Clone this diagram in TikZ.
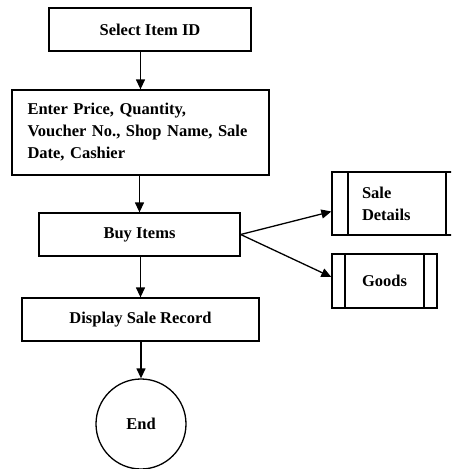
\documentclass[tikz,border=0pt]{standalone}
\usepackage{fontspec}
\setmainfont{Liberation Serif}
\usetikzlibrary{positioning, arrows.meta, calc}
\tikzset{
  box/.style={draw, line width=1.3pt, align=center, font=\fontsize{16.5}{22}\selectfont\bfseries, inner sep=2pt},
  stepbox/.style={box, minimum height=43pt},
  subproc/.style={box, path picture={
      \draw[line width=1.3pt] ([xshift=#1]path picture bounding box.north west) -- ([xshift=#1]path picture bounding box.south west);
      \draw[line width=1.3pt] ([xshift=-#1]path picture bounding box.north east) -- ([xshift=-#1]path picture bounding box.south east);}},
  term/.style={box, circle, minimum size=90pt},
  flow/.style={-{Triangle[length=10pt, width=9pt]}, line width=1.3pt},
}
\begin{document}
\begin{tikzpicture}[x=1pt, y=1pt]
  \clip (0,0) rectangle (451,-469);
  \useasboundingbox (0,0) rectangle (451,-469);
  \node[stepbox, minimum width=202pt] (sel) at (150,-29.5) {Select Item ID};
  \node[box, minimum width=257pt, minimum height=85pt, text width=226pt, align=left, inner xsep=15pt] (enter) at (140.5,-132.5) {Enter Price, Quantity,\\ Voucher No., Shop Name, Sale\\ Date, Cashier};
  \node[stepbox, minimum width=201pt] (buy) at (139.5,-234.5) {Buy Items};
  \node[stepbox, minimum width=237pt] (disp) at (140.5,-319.5) {Display Sale Record};
  \node[term] (end) at (141,-424) {End};
  \node[subproc=16pt, minimum width=130pt, minimum height=63pt, text width=70pt, align=left] (sale) at (397,-203.5) {Sale\\ Details};
  \node[subproc=13pt, minimum width=105pt, minimum height=54pt] (goods) at (384.5,-281) {Goods};
  % main flow
  \draw[flow] (enter.north |- sel.south) -- (enter.north);
  \foreach \a/\b in {enter/buy, buy/disp, disp/end} \draw[flow] (\b.north |- \a.south) -- (\b.north);
  % outputs
  \draw[flow] (buy.east) -- ([yshift=-8pt]sale.west);
  \draw[flow] (buy.east) -- ([yshift=4pt]goods.west);
\end{tikzpicture}
\end{document}
